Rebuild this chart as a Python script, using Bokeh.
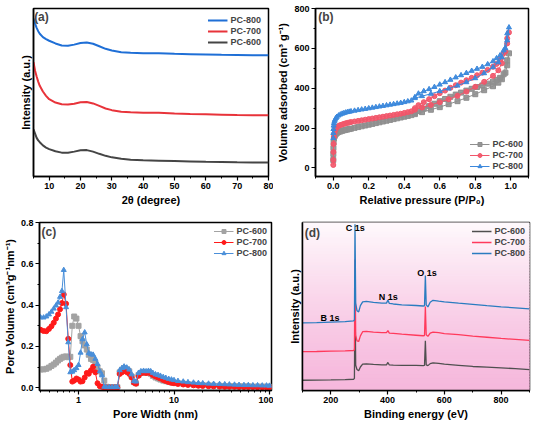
import numpy as np
from bokeh.plotting import figure
from bokeh.layouts import row, column
from bokeh.models import (Legend, LegendItem, Label, FixedTicker, Range1d,
                          NumeralTickFormatter, BasicTickFormatter)
from bokeh.core.properties import value
from bokeh.embed import file_html
from bokeh.resources import INLINE

FONT = "Liberation Sans"

# ---------------- (a) XRD ----------------
xrd_2theta = [5, 5.5, 6, 6.5, 7, 8, 9, 10, 12, 14, 16, 18, 20, 22, 24, 26, 28, 30,
              33, 36, 40, 45, 50, 55, 60, 65, 70, 75, 80]
xrd_pc800 = [94, 91, 88.5, 86.5, 85, 83, 81.8, 80.8, 79.2, 78, 77.8, 78.5, 79.5, 79.8,
             79, 77.5, 76, 75, 74, 73.6, 73.4, 73.3, 73, 72.8, 72.6, 72.4, 72.3, 72.2, 72.1]
xrd_pc700 = [68, 63, 59.5, 56.5, 54, 50.6, 48, 46, 44, 43, 42.8, 43.3, 44.2, 44.3,
             43.5, 42, 40.5, 39.5, 38.6, 38.2, 38, 38, 37.5, 37.2, 37, 36.8, 36.6, 36.5, 36.4]
xrd_pc600 = [28, 25.5, 23, 21.5, 20.4, 18.5, 17.2, 16.3, 15, 14.2, 14.2, 14.8, 15.6, 15.7,
             14.8, 13.5, 12.3, 11.4, 10.6, 10.0, 9.6, 9.4, 9.2, 9.0, 8.8, 8.7, 8.5, 8.4, 8.3]

# ---------------- (b) N2 isotherms ----------------
p_ads = [0.0002, 0.0005, 0.001, 0.002, 0.004, 0.007, 0.01, 0.015, 0.02, 0.03, 0.04, 0.05,
         0.06, 0.07, 0.08, 0.09, 0.10, 0.12, 0.14, 0.16, 0.18, 0.20, 0.22, 0.24, 0.26,
         0.28, 0.30, 0.32, 0.34, 0.36, 0.38, 0.40, 0.42, 0.44, 0.46, 0.50, 0.55, 0.60,
         0.65, 0.70, 0.75, 0.80, 0.85, 0.90, 0.93, 0.95, 0.97, 0.98, 0.99]
p_des = [0.98, 0.96, 0.94, 0.92, 0.90, 0.87, 0.84, 0.81, 0.78, 0.75, 0.72, 0.69, 0.66,
         0.63, 0.60, 0.57, 0.54, 0.51, 0.48, 0.46]
iso_pc600_ads = [40, 70, 100, 128, 148, 158, 165, 171, 175, 180, 183, 186, 189, 191, 193, 195, 197,
                 201, 205, 209, 213, 217, 221, 225, 229, 233, 237, 241, 245, 249, 253, 257, 261, 265,
                 270, 280, 292, 305, 320, 335, 352, 370, 390, 410, 428, 445, 478, 515, 575]
iso_pc600_des = [540, 470, 452, 442, 433, 423, 414, 406, 397, 388, 378, 368, 357, 346, 335,
                 322, 310, 298, 285, 275]
iso_pc700_ads = [15, 40, 80, 120, 155, 175, 188, 197, 204, 211, 215, 218, 221, 224, 226, 228, 230,
                 233, 236, 239, 242, 245, 248, 251, 254, 257, 260, 263, 266, 269, 272, 276, 280, 284,
                 292, 303, 316, 330, 345, 362, 383, 407, 432, 462, 490, 525, 585, 625, 680]
iso_pc700_des = [650, 575, 545, 522, 508, 492, 478, 465, 452, 440, 428, 415, 402, 388, 375,
                 360, 345, 330, 315, 300]
iso_pc800_ads = [150, 175, 195, 212, 225, 234, 242, 250, 256, 263, 268, 272, 275, 278, 280, 282, 284,
                 287, 290, 293, 296, 299, 302, 305, 308, 311, 314, 317, 320, 323, 326, 330, 334, 338,
                 350, 360, 372, 385, 398, 413, 430, 450, 475, 505, 530, 555, 600, 640, 705]
iso_pc800_des = [675, 590, 565, 550, 535, 520, 507, 497, 487, 476, 465, 454, 442, 430, 418,
                 406, 395, 385, 373, 355]

# ---------------- (c) pore size distribution ----------------
pore_width = [0.40, 0.43, 0.46, 0.49, 0.52, 0.55, 0.58, 0.61, 0.64, 0.67, 0.70, 0.74, 0.78,
              0.82, 0.86, 0.90, 0.95, 1.00, 1.05, 1.10, 1.16, 1.22, 1.28, 1.35, 1.42, 1.50,
              1.58, 1.67, 1.76, 1.86, 1.96, 2.1, 2.25, 2.4, 2.55, 2.7, 2.85, 3.0, 3.2, 3.4,
              3.6, 3.8, 4.0, 4.25, 4.5, 4.8, 5.1, 5.4, 5.7, 6.0, 6.4, 6.8, 7.2, 7.7, 8.2,
              8.8, 9.4, 10, 11, 12.5, 14, 16, 18, 20, 23, 26, 30, 34, 38, 43, 48, 54, 60,
              67, 75, 84, 93, 100]
psd_pc600 = [0.089, 0.089, 0.092, 0.098, 0.106, 0.113, 0.122, 0.132, 0.140, 0.146, 0.150, 0.152,
             0.148, 0.150, 0.300, 0.345, 0.335, 0.300, 0.250, 0.225, 0.205, 0.185, 0.160, 0.140,
             0.135, 0.120, 0.100, 0.080, 0.070, 0.035, 0.005, 0.003, 0.003, 0.003, 0.003, 0.075,
             0.088, 0.096, 0.090, 0.080, 0.055, 0.028, 0.022, 0.062, 0.072, 0.074, 0.072, 0.073,
             0.068, 0.058, 0.050, 0.045, 0.040, 0.035, 0.032, 0.028, 0.026, 0.025, 0.022, 0.020,
             0.018, 0.016, 0.014, 0.013, 0.012, 0.011, 0.010, 0.009, 0.009, 0.008, 0.008, 0.007,
             0.007, 0.006, 0.006, 0.006, 0.005, 0.005]
psd_pc700 = [0.281, 0.275, 0.274, 0.285, 0.298, 0.315, 0.335, 0.355, 0.380, 0.410, 0.452, 0.407,
             0.237, 0.110, 0.030, 0.035, 0.045, 0.040, 0.030, 0.032, 0.050, 0.072, 0.068, 0.085,
             0.102, 0.075, 0.022, 0.008, 0.005, 0.002, 0.002, 0.002, 0.002, 0.002, 0.002, 0.067,
             0.075, 0.081, 0.076, 0.067, 0.050, 0.025, 0.020, 0.058, 0.070, 0.074, 0.072, 0.074,
             0.070, 0.062, 0.055, 0.050, 0.045, 0.038, 0.033, 0.028, 0.024, 0.022, 0.019, 0.016,
             0.014, 0.012, 0.010, 0.009, 0.008, 0.007, 0.006, 0.005, 0.005, 0.005, 0.004, 0.004,
             0.004, 0.004, 0.003, 0.003, 0.003, 0.003]
psd_pc800 = [0.341, 0.340, 0.345, 0.355, 0.368, 0.383, 0.398, 0.412, 0.440, 0.468, 0.570, 0.390,
             0.220, 0.075, 0.078, 0.085, 0.095, 0.110, 0.170, 0.235, 0.268, 0.210, 0.168, 0.162,
             0.160, 0.140, 0.115, 0.080, 0.060, 0.005, 0.003, 0.003, 0.003, 0.003, 0.004, 0.085,
             0.095, 0.103, 0.098, 0.088, 0.065, 0.032, 0.030, 0.072, 0.080, 0.082, 0.080, 0.082,
             0.080, 0.072, 0.065, 0.062, 0.058, 0.052, 0.048, 0.043, 0.040, 0.037, 0.033, 0.030,
             0.027, 0.025, 0.023, 0.022, 0.020, 0.019, 0.018, 0.017, 0.016, 0.015, 0.014, 0.013,
             0.013, 0.012, 0.012, 0.011, 0.011, 0.010]

# ---------------- (d) XPS survey ----------------
xps_energy = [100, 150, 200, 250, 280, 283, 285, 287.5, 292, 298, 304, 312, 325, 350, 380,
              396, 401, 406, 420, 450, 500, 525, 530, 533, 536, 542, 550, 560, 580, 600,
              650, 700, 750, 800, 850, 900]
xps_pc800 = [40.2, 40.4, 40.7, 41.0, 41.4, 42.0, 99.0, 52, 47.5, 46.8, 50.5, 52.8, 53.0, 52.5,
             52.0, 52.0, 53.8, 51.8, 51.5, 51.0, 50.6, 50.3, 50.4, 68.5, 51.0, 49.8, 52.5, 53.7,
             53.2, 52.8, 52.0, 51.3, 50.5, 49.8, 49.2, 48.6]
xps_pc700 = [23.1, 23.2, 23.4, 23.6, 23.8, 24.3, 78, 33, 29.5, 29.2, 32.5, 35.0, 35.2, 34.8,
             34.4, 34.4, 35.6, 34.2, 34.0, 33.5, 32.9, 32.6, 32.7, 50.0, 33.2, 32.2, 34.2, 34.8,
             34.4, 33.9, 33.2, 32.4, 31.7, 31.0, 30.4, 29.8]
xps_pc600 = [6.1, 6.2, 6.3, 6.5, 6.7, 7.2, 60, 15, 12.5, 11.8, 14.0, 15.7, 15.8, 15.5, 15.3,
             15.3, 16.7, 15.2, 15.1, 15.0, 14.9, 14.8, 14.9, 29.6, 15.2, 14.8, 16.0, 16.5, 16.2,
             15.7, 15.0, 14.3, 13.9, 13.5, 13.0, 12.4]
peak_names = ["C 1s", "N 1s", "O 1s", "B 1s"]
peak_name_x = [286, 402, 539, 197]
peak_name_y = [96.5, 55.6, 69.8, 43.1]


def style(p):
    p.grid.visible = False
    p.outline_line_color = "black"
    p.outline_line_width = 1.5
    p.outline_line_alpha = 1
    p.background_fill_color = "white"
    p.border_fill_color = "white"
    for ax in p.axis:
        ax.axis_line_width = 1.5
        ax.axis_line_color = "black"
        ax.major_tick_line_width = 1.2
        ax.minor_tick_line_width = 1
        ax.major_tick_out = 4
        ax.major_tick_in = 0
        ax.minor_tick_out = 2
        ax.minor_tick_in = 0
        ax.major_label_text_font = FONT
        ax.major_label_text_font_style = "bold"
        ax.major_label_text_font_size = "9px"
        ax.major_label_text_color = "black"
        ax.axis_label_text_font = FONT
        ax.axis_label_text_font_style = "bold"
        ax.axis_label_text_font_size = "11px"
        ax.axis_label_text_color = "black"
        ax.axis_label_standoff = 2
        ax.major_label_standoff = 2


def make_legend(items, location, margin):
    lg = Legend(items=items, location=location)
    lg.label_text_font = FONT
    lg.label_text_font_style = "bold"
    lg.label_text_font_size = "9px"
    lg.glyph_width = 20
    lg.glyph_height = 10
    lg.label_height = 10
    lg.label_standoff = 3
    lg.spacing = 1
    lg.padding = 2
    lg.margin = margin
    lg.border_line_alpha = 0
    lg.background_fill_alpha = 0
    return lg


def panel_label(p, x, y, text):
    p.add_layout(Label(x=x, y=y, text=text, text_font=FONT, text_font_style="bold",
                       text_font_size="12px", text_baseline="top", text_align="left"))


# ---------- (a) ----------
pa = figure(width=273, height=214, output_backend="svg", toolbar_location=None,
            x_range=Range1d(5, 80), y_range=Range1d(0, 100),
            min_border_left=33, min_border_right=5, min_border_top=5, min_border_bottom=38)
r600 = pa.line(xrd_2theta, xrd_pc600, line_color="#454545", line_width=2)
r700 = pa.line(xrd_2theta, xrd_pc700, line_color="#e8333a", line_width=2)
r800 = pa.line(xrd_2theta, xrd_pc800, line_color="#1f6fd6", line_width=2)
style(pa)
pa.xaxis.ticker = FixedTicker(ticks=list(range(10, 81, 10)), minor_ticks=list(range(5, 80, 10)))
pa.yaxis.ticker = FixedTicker(ticks=[], minor_ticks=[])
pa.xaxis.axis_label = "2θ (degree)"
pa.yaxis.axis_label = "Intensity (a.u.)"
pa.add_layout(make_legend([LegendItem(label="PC-800", renderers=[r800]),
                           LegendItem(label="PC-700", renderers=[r700]),
                           LegendItem(label="PC-600", renderers=[r600])], "top_right", 5))
panel_label(pa, 5.2, 99, "(a)")

# ---------- (b) ----------
pb = figure(width=261, height=214, output_backend="svg", toolbar_location=None,
            x_range=Range1d(-0.1, 1.1), y_range=Range1d(-43, 800),
            min_border_left=42, min_border_right=6, min_border_top=8, min_border_bottom=37)
series_b = [("PC-600", iso_pc600_ads, iso_pc600_des, "#8f8f8f", "square"),
            ("PC-700", iso_pc700_ads, iso_pc700_des, "#f2566a", "circle"),
            ("PC-800", iso_pc800_ads, iso_pc800_des, "#3b88dc", "triangle")]
items_b = []
for name, ads, des, col, mk in series_b:
    xs = list(p_ads) + list(p_des)
    ys = list(ads) + list(des)
    l = pb.line(xs, ys, line_color=col, line_width=1)
    s = pb.scatter(xs, ys, marker=mk, size=5, fill_color=col, line_color=col, fill_alpha=0.9)
    items_b.append(LegendItem(label=name, renderers=[l, s]))
style(pb)
pb.xaxis.ticker = FixedTicker(ticks=[0, 0.2, 0.4, 0.6, 0.8, 1.0],
                              minor_ticks=[-0.1, 0.1, 0.3, 0.5, 0.7, 0.9, 1.1])
pb.xaxis.formatter = NumeralTickFormatter(format="0.0")
pb.yaxis.ticker = FixedTicker(ticks=[0, 200, 400, 600, 800], minor_ticks=[100, 300, 500, 700])
pb.xaxis.axis_label = "Relative pressure (P/P₀)"
pb.yaxis.axis_label = "Volume adsorbed (cm³ g⁻¹)"
pb.add_layout(make_legend(items_b, "bottom_right", 3))
panel_label(pb, -0.085, 790, "(b)")

# ---------- (c) ----------
pc = figure(width=273, height=215, output_backend="svg", toolbar_location=None,
            x_axis_type="log", x_range=Range1d(0.39, 105), y_range=Range1d(-0.013, 0.8),
            min_border_left=38, min_border_right=2, min_border_top=8, min_border_bottom=31)
series_c = [("PC-600", psd_pc600, "#a3a3a3", "square"),
            ("PC-700", psd_pc700, "#ff1a1a", "circle"),
            ("PC-800", psd_pc800, "#4a8fd9", "triangle")]
items_c = []
for name, ys, col, mk in series_c:
    l = pc.line(pore_width, ys, line_color=col, line_width=1)
    s = pc.scatter(pore_width, ys, marker=mk, size=5, fill_color=col, line_color=col)
    items_c.append(LegendItem(label=name, renderers=[l, s]))
style(pc)
minor_log = [0.4, 0.5, 0.6, 0.7, 0.8, 0.9] + list(range(2, 10)) + list(range(20, 100, 10))
pc.xaxis.ticker = FixedTicker(ticks=[1, 10, 100], minor_ticks=minor_log)
pc.xaxis.formatter = BasicTickFormatter()
pc.yaxis.ticker = FixedTicker(ticks=[0, 0.2, 0.4, 0.6, 0.8], minor_ticks=[0.1, 0.3, 0.5, 0.7])
pc.yaxis.formatter = NumeralTickFormatter(format="0.0")
pc.xaxis.axis_label = "Pore Width (nm)"
pc.yaxis.axis_label = "Pore Volume (cm³g⁻¹nm⁻¹)"
pc.add_layout(make_legend(items_c, "top_right", 2))
panel_label(pc, 0.41, 0.79, "(c)")

# ---------- (d) ----------
pd_ = figure(width=261, height=215, output_backend="svg", toolbar_location=None,
             x_range=Range1d(100, 900), y_range=Range1d(0, 100),
             min_border_left=29, min_border_right=5, min_border_top=3, min_border_bottom=39)
nb = 60
edges = np.linspace(0, 100, nb + 1)
tt = (edges[:-1] + edges[1:]) / 200.0
top_rgb = np.array([254, 249, 252])
bot_rgb = np.array([246, 184, 220])
band_cols = ["#%02x%02x%02x" % tuple(int(round(c)) for c in (bot_rgb + (top_rgb - bot_rgb) * t ** 1.3))
             for t in tt]
pd_.quad(left=100, right=900, bottom=edges[:-1], top=edges[1:],
         fill_color=band_cols, line_color=band_cols, line_width=1)
d600 = pd_.line(xps_energy, xps_pc600, line_color="#4f4f4f", line_width=1.3)
d700 = pd_.line(xps_energy, xps_pc700, line_color="#ff3a5c", line_width=1.3)
d800 = pd_.line(xps_energy, xps_pc800, line_color="#2a7cc0", line_width=1.3)
pd_.text(x=peak_name_x, y=peak_name_y, text=peak_names, text_font=value(FONT),
         text_font_style="bold", text_font_size="9px", text_align="center",
         text_baseline="middle", text_color="black")
style(pd_)
pd_.xaxis.ticker = FixedTicker(ticks=[200, 400, 600, 800], minor_ticks=[100, 300, 500, 700, 900])
pd_.yaxis.ticker = FixedTicker(ticks=[], minor_ticks=[])
pd_.xaxis.axis_label = "Binding energy (eV)"
pd_.yaxis.axis_label = "Intensity (a.u.)"
pd_.add_layout(make_legend([LegendItem(label="PC-600", renderers=[d600]),
                            LegendItem(label="PC-700", renderers=[d700]),
                            LegendItem(label="PC-800", renderers=[d800])], "top_right", 2))
panel_label(pd_, 108, 98, "(d)")

layout = column(row(pa, pb), row(pc, pd_))
open("out.html", "w").write(file_html(layout, INLINE))
